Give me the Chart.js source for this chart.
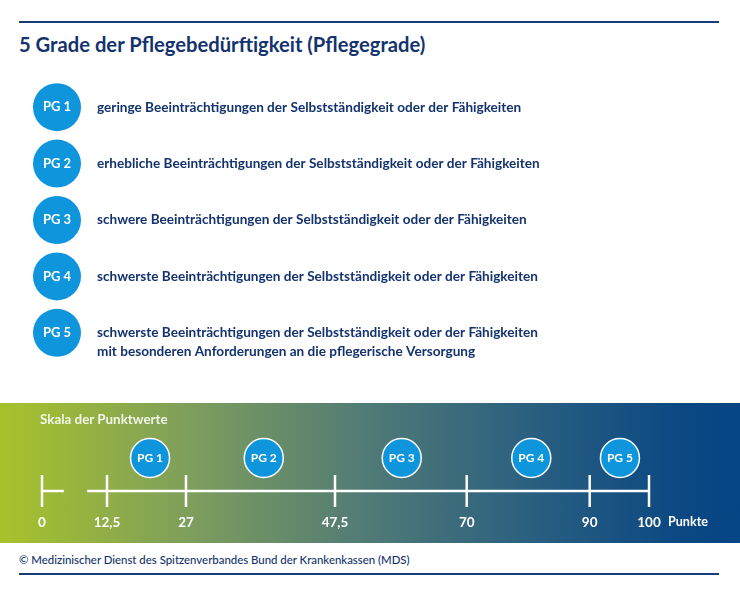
<!DOCTYPE html>
<html lang="de">
<head>
<meta charset="utf-8">
<title>5 Grade der Pflegebedürftigkeit</title>
<script src="https://cdn.jsdelivr.net/npm/chart.js@4/dist/chart.umd.min.js"></script>
<style>
    html, body { margin: 0; padding: 0; background: #fff; }
    body { position: relative; width: 740px; height: 596px; overflow: hidden; font-family: Lato, sans-serif; color: #14336e; }
    .rule { position: absolute; left: 19px; width: 700px; height: 1.5px; background: #1b3a78; }
    .text { position: absolute; white-space: nowrap; margin: 0; }
    #title { left: 19px; top: 31px; font-size: 20.2px; line-height: 26px; font-weight: 700; }
    #footer { left: 19px; top: 552px; font-size: 11.4px; line-height: 16px; font-weight: 500; }
    #band { position: absolute; left: 0; top: 403px; width: 740px; height: 140px;
        background: linear-gradient(90deg, #a7c12c 0%, #a3be30 3%, #7f9f5c 25%, #4f7a76 50%, #2a5f80 72%, #0b4883 92%, #064584 100%); }
    #scaleTitle { left: 40px; top: 8px; font-size: 13.4px; line-height: 16px; font-weight: 700; color: #f2f6ea; }
    #unit { left: 668px; top: 111px; font-size: 12.6px; line-height: 16px; font-weight: 700; color: #fff; }
    #gradeChart { position: absolute; left: 0; top: 79px; }
    #scaleChart { position: absolute; left: 0; top: 0; }
</style>
</head>
<body>
<div class="rule" style="top: 21px"></div>
<h1 class="text" id="title">5 Grade der Pflegebedürftigkeit (Pflegegrade)</h1>
<canvas id="gradeChart" width="740" height="282"></canvas>
<div id="band">
    <canvas id="scaleChart" width="740" height="140"></canvas>
    <div class="text" id="scaleTitle">Skala der Punktwerte</div>
    <div class="text" id="unit">Punkte</div>
</div>
<div class="text" id="footer">© Medizinischer Dienst des Spitzenverbandes Bund der Krankenkassen (MDS)</div>
<div class="rule" style="top: 573px"></div>
<script>
// ─── Data ───
const gradeNames = ['PG 1', 'PG 2', 'PG 3', 'PG 4', 'PG 5'];
const gradeTexts = [
    ['geringe Beeinträchtigungen der Selbstständigkeit oder der Fähigkeiten'],
    ['erhebliche Beeinträchtigungen der Selbstständigkeit oder der Fähigkeiten'],
    ['schwere Beeinträchtigungen der Selbstständigkeit oder der Fähigkeiten'],
    ['schwerste Beeinträchtigungen der Selbstständigkeit oder der Fähigkeiten'],
    ['schwerste Beeinträchtigungen der Selbstständigkeit oder der Fähigkeiten',
     'mit besonderen Anforderungen an die pflegerische Versorgung']
];
const scaleTicks = [0, 12.5, 27, 47.5, 70, 90, 100];
const bubbleValues = [20.4, 37.7, 58.9, 80.5, 95.1];
const axisLineValues = [0, 4.2, 6.5, 8.7, 100];
const axisLineLevels = [0, 0, null, 0, 0];

const NAVY = '#14336e';
const BLUE = '#0f95dc';
const FONT = 'Lato, sans-serif';

// The printed scale is not to proportion, each tick has its own spot along the axis
const TICK_STOPS = [0, 0.1071, 0.2372, 0.4827, 0.6997, 0.9023, 1];

class StoppedScale extends Chart.LinearScale {
    static id = 'stopped';
    static defaults = Chart.LinearScale.defaults;

    getPixelForValue(value) {
        let i = 0;
        while (i < scaleTicks.length - 2 && value > scaleTicks[i + 1]) i++;
        const t = (value - scaleTicks[i]) / (scaleTicks[i + 1] - scaleTicks[i]);
        return this.getPixelForDecimal(TICK_STOPS[i] + t * (TICK_STOPS[i + 1] - TICK_STOPS[i]));
    }
}
Chart.register(StoppedScale);

// Writes "PG n" into the middle of each circle
const circleLabels = {
    id: 'circleLabels',
    afterDatasetsDraw(chart, args, opts) {
        const ctx = chart.ctx;
        const points = chart.getDatasetMeta(opts.datasetIndex).data;
        ctx.save();
        ctx.font = opts.font;
        ctx.fillStyle = '#fff';
        ctx.textAlign = 'center';
        ctx.textBaseline = 'middle';
        points.forEach((p, i) => ctx.fillText(gradeNames[i], p.x, p.y));
        ctx.restore();
    }
};

// Description next to each circle of the list
const rowTexts = {
    id: 'rowTexts',
    afterDatasetsDraw(chart) {
        const ctx = chart.ctx;
        const points = chart.getDatasetMeta(0).data;
        ctx.save();
        ctx.font = '700 13.6px ' + FONT;
        ctx.fillStyle = NAVY;
        ctx.textAlign = 'left';
        ctx.textBaseline = 'middle';
        points.forEach((p, i) => {
            gradeTexts[i].forEach((line, n) => ctx.fillText(line, p.x + 40, p.y + n * 19));
        });
        ctx.restore();
    }
};

new Chart(document.getElementById('gradeChart'), {
    type: 'scatter',
    data: {
        datasets: [{
            data: gradeNames.map((name, i) => ({ x: 0, y: i })),
            backgroundColor: BLUE,
            borderWidth: 0,
            pointRadius: 24,
            pointHoverRadius: 24,
            clip: false
        }]
    },
    options: {
        responsive: false,
        animation: false,
        events: [],
        layout: { autoPadding: false, padding: { left: 57 } },
        plugins: {
            legend: { display: false },
            tooltip: { enabled: false },
            circleLabels: { datasetIndex: 0, font: '700 13px ' + FONT }
        },
        scales: {
            x: { type: 'linear', min: 0, max: 1, display: false },
            y: { type: 'linear', min: -0.5, max: 4.5, reverse: true, display: false }
        }
    },
    plugins: [circleLabels, rowTexts]
});

new Chart(document.getElementById('scaleChart'), {
    type: 'scatter',
    data: {
        datasets: [
            {
                // PG circles above the axis
                data: bubbleValues.map(x => ({ x, y: 1 })),
                backgroundColor: BLUE,
                borderColor: '#fff',
                borderWidth: 1.5,
                pointRadius: 19.5,
                pointHoverRadius: 19.5,
                clip: false
            },
            {
                // axis line with the break after 0
                data: axisLineValues.map((x, i) => ({ x, y: axisLineLevels[i] })),
                showLine: true,
                spanGaps: false,
                borderColor: '#fff',
                borderWidth: 2.5,
                pointRadius: 0,
                clip: false
            },
            {
                // tick strokes
                data: scaleTicks.map(x => ({ x, y: 0 })),
                pointStyle: 'line',
                rotation: 90,
                borderColor: '#fff',
                borderWidth: 2.5,
                pointRadius: 16,
                pointHoverRadius: 16,
                clip: false
            }
        ]
    },
    options: {
        responsive: false,
        animation: false,
        events: [],
        layout: { autoPadding: false, padding: { left: 42, right: 91, top: 0, bottom: 0 } },
        plugins: {
            legend: { display: false },
            tooltip: { enabled: false },
            circleLabels: { datasetIndex: 0, font: '700 12px ' + FONT }
        },
        scales: {
            x: {
                type: 'stopped',
                min: 0,
                max: 100,
                afterBuildTicks: scale => { scale.ticks = scaleTicks.map(value => ({ value })); },
                afterFit: scale => { scale.height = 35.5; },
                grid: { display: false, drawTicks: false },
                border: { display: false },
                ticks: {
                    color: '#fff',
                    font: { family: 'Lato', size: 13.5, weight: '700' },
                    padding: 7,
                    autoSkip: false,
                    maxRotation: 0,
                    callback: value => String(value).replace('.', ',')
                }
            },
            y: { type: 'linear', min: -0.5, max: 2.667, display: false }
        }
    },
    plugins: [circleLabels]
});
</script>
</body>
</html>
